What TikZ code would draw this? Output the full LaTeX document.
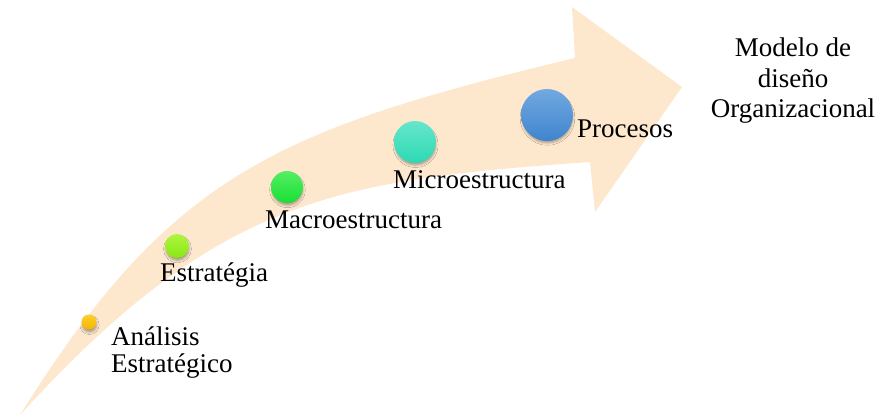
\documentclass[tikz,border=0pt]{standalone}
\usepackage{fontspec}
\setmainfont{Liberation Serif}
\usetikzlibrary{shadows.blur}
\definecolor{bandfill}{HTML}{FDE7CD}
\definecolor{dotAtop}{HTML}{FFCF2E}
\definecolor{dotAbot}{HTML}{F2B600}
\definecolor{dotBtop}{HTML}{B0F540}
\definecolor{dotBbot}{HTML}{88E812}
\definecolor{dotCtop}{HTML}{55EE62}
\definecolor{dotCbot}{HTML}{18E034}
\definecolor{dotDtop}{HTML}{66E6CB}
\definecolor{dotDbot}{HTML}{2DD9B4}
\definecolor{dotEtop}{HTML}{72A9E0}
\definecolor{dotEbot}{HTML}{3F84CE}
\tikzset{
  dot/.style={circle, inner sep=0pt, minimum size=#1,
    blur shadow={shadow xshift=0.5pt, shadow yshift=-3pt, shadow scale=0.96,
      shadow blur radius=2.5pt, shadow opacity=35}},
  lbl/.style={font=\fontsize{27}{30}\selectfont, inner sep=0pt, anchor=base west},
}
\begin{document}
\begin{tikzpicture}[x=1pt, y=-1pt]
\useasboundingbox (0,0) rectangle (881,418);
% curved block arrow
\fill[bandfill] (20,415)
  .. controls (170,175) and (275,130) .. (575,58)
  -- (572,7) -- (682,87) -- (595,212) -- (590,162)
  .. controls (340,180) and (220,195) .. (20,415) -- cycle;
% stage markers
\node[dot=15pt, top color=dotAtop, bottom color=dotAbot] (c1) at (89,322) {};
\node[dot=24pt, top color=dotBtop, bottom color=dotBbot] (c2) at (177,246) {};
\node[dot=32pt, top color=dotCtop, bottom color=dotCbot] (c3) at (287,187) {};
\node[dot=42pt, top color=dotDtop, bottom color=dotDbot] (c4) at (415,142) {};
\node[dot=52pt, top color=dotEtop, bottom color=dotEbot] (c5) at (547,115) {};
% stage labels
\node[lbl] (t1a) at (111,345) {Análisis};
\node[lbl] (t1b) at (111,372) {Estratégico};
\node[lbl] (t2) at (160,281) {Estratégia};
\node[lbl] (t3) at (265,228) {Macroestructura};
\node[lbl] (t4) at (393,188) {Microestructura};
\node[lbl] (t5) at (577,137) {Procesos};
% goal
\node[lbl, anchor=base] (g1) at (793,56) {Modelo de};
\node[lbl, anchor=base] (g2) at (793,87) {diseño};
\node[lbl, anchor=base] (g3) at (793,117) {Organizacional};
\end{tikzpicture}
\end{document}
